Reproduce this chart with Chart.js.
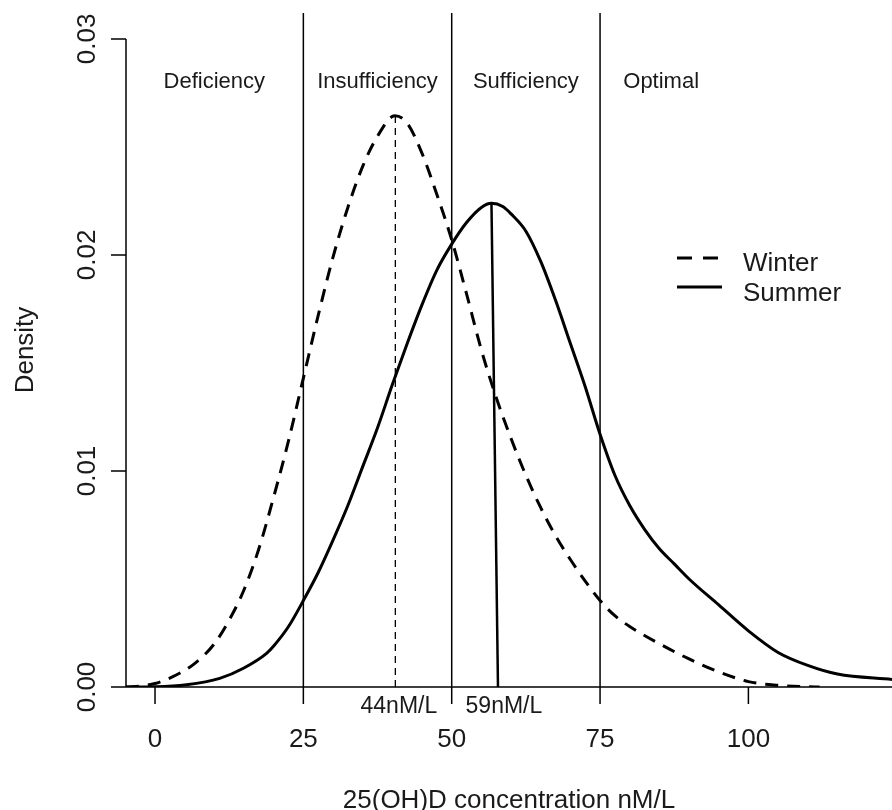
<!DOCTYPE html>
<html lang="en">
<head>
  <meta charset="UTF-8">
  <title>25(OH)D density - Winter vs Summer</title>
  <script src="https://cdn.jsdelivr.net/npm/chart.js"></script>
  <style>
    body {
      margin: 0;
      padding: 0;
      background-color: #ffffff;
    }
    #wrap {
      width: 892px;
      height: 810px;
      position: relative;
    }
  </style>
</head>
<body>
  <div id="wrap">
    <canvas id="density-chart" width="892" height="810"></canvas>
  </div>

  <script>
    // Winter density curve
    const winterX = [-4.9, -2, 0, 3, 6.5, 10, 12.5, 15, 17.5, 20, 22.5, 25, 27.5, 30, 32.5, 35, 37.5,
      40.4, 42.5, 45, 47.5, 50, 52.5, 55, 57.5, 60, 62.5, 65, 67.5, 70, 72.5, 75, 77.5, 80, 85, 90, 95,
      100, 105, 110, 112];
    const winterY = [0, 0.00006, 0.00016, 0.00048, 0.00105, 0.0020, 0.0031, 0.0045, 0.0064, 0.0088,
      0.0114, 0.0143, 0.0172, 0.0199, 0.0222, 0.0241, 0.0255, 0.02644, 0.0261, 0.0247, 0.0228,
      0.0207, 0.0182, 0.0156, 0.0134, 0.0115, 0.0098, 0.0083, 0.0070, 0.0059, 0.0049, 0.0040,
      0.0033, 0.0028, 0.0020, 0.0013, 0.0007, 0.00025, 0.00008, 0.00001, 0];

    // Summer density curve
    const summerX = [-4.9, 0, 5.3, 10.9, 14.9, 18.8, 20, 22.5, 25, 27.5, 30, 32.5, 35, 37.5, 40, 42.5,
      45, 47.5, 50, 52.5, 55, 56.7, 58.6, 60, 62.5, 65, 67.5, 70, 72.5, 75, 77.5, 80, 82.5, 85,
      87.5, 90, 95, 100, 105, 110, 115, 124.2];
    const summerY = [0, 0.00001, 0.0001, 0.0004, 0.00087, 0.00156, 0.0019, 0.0028, 0.0040, 0.0053,
      0.0068, 0.0084, 0.0102, 0.0120, 0.0140, 0.0159, 0.0177, 0.0193, 0.0205, 0.0215, 0.0222,
      0.02239, 0.02224, 0.0219, 0.0211, 0.0197, 0.0179, 0.0159, 0.0139, 0.0117, 0.0098, 0.0084,
      0.0073, 0.0064, 0.0057, 0.0050, 0.0038, 0.0026, 0.0016, 0.0010, 0.0006, 0.00035];

    // cut-offs between the status bands
    const cutoffs = [25, 50, 75];
    const bandLabels = ["Deficiency", "Insufficiency", "Sufficiency", "Optimal"];
    const bandCenters = [10, 37.5, 62.5, 85.3];

    // medians: drawn line (bottom x, top x, top y) and label
    const winterMedian = { x0: 40.5, x1: 40.5, y1: 0.02644 };
    const summerMedian = { x0: 57.8, x1: 56.7, y1: 0.02239 };
    const medianLabels = ["44nM/L", "59nM/L"];
    const medianLabelX = [41.1, 58.8];

    const xTicks = [0, 25, 50, 75, 100];
    const yTicks = [0, 0.01, 0.02, 0.03];
    const yTickLabels = ["0.00", "0.01", "0.02", "0.03"];

    const X_MIN = -4.89, X_MAX = 124.2, Y_MIN = 0, Y_MAX = 0.0312;
    const FONT = '"Liberation Sans", Arial, sans-serif';
    const INK = "#1a1a1a";

    function toPoints(xs, ys) {
      return xs.map((x, i) => ({ x: x, y: ys[i] }));
    }

    const datasets = [
      {
        label: "Winter",
        data: toPoints(winterX, winterY),
        borderColor: "#000",
        borderWidth: 3,
        borderDash: [13, 9],
        cubicInterpolationMode: "monotone"
      },
      {
        label: "Summer",
        data: toPoints(summerX, summerY),
        borderColor: "#000",
        borderWidth: 3,
        cubicInterpolationMode: "monotone"
      }
    ];

    cutoffs.forEach(c => {
      datasets.push({
        label: "cut " + c,
        data: [{ x: c, y: Y_MIN }, { x: c, y: Y_MAX }],
        borderColor: "#000",
        borderWidth: 1.5
      });
    });

    datasets.push({
      label: "winter median",
      data: [{ x: winterMedian.x0, y: 0 }, { x: winterMedian.x1, y: winterMedian.y1 }],
      borderColor: "#000",
      borderWidth: 1.3,
      borderDash: [7, 5]
    });
    datasets.push({
      label: "summer median",
      data: [{ x: summerMedian.x0, y: 0 }, { x: summerMedian.x1, y: summerMedian.y1 }],
      borderColor: "#000",
      borderWidth: 2.5
    });

    // R style axes, labels and legend drawn with the chart's own scales
    const decorations = {
      id: "decorations",
      afterDraw(chart) {
        const ctx = chart.ctx;
        const xs = chart.scales.x, ys = chart.scales.y;
        const area = chart.chartArea;
        const y0 = ys.getPixelForValue(0);

        ctx.save();
        ctx.strokeStyle = "#000";
        ctx.fillStyle = INK;
        ctx.lineWidth = 1.5;

        // y axis line + ticks
        ctx.beginPath();
        ctx.moveTo(area.left, ys.getPixelForValue(yTicks[yTicks.length - 1]));
        ctx.lineTo(area.left, y0);
        yTicks.forEach(t => {
          const p = ys.getPixelForValue(t);
          ctx.moveTo(area.left - 15, p);
          ctx.lineTo(area.left, p);
        });
        // baseline + x ticks
        ctx.moveTo(area.left - 15, y0);
        ctx.lineTo(area.right, y0);
        xTicks.forEach(t => {
          const p = xs.getPixelForValue(t);
          ctx.moveTo(p, y0);
          ctx.lineTo(p, y0 + 17);
        });
        ctx.stroke();

        // tick labels
        ctx.font = "26px " + FONT;
        ctx.textAlign = "center";
        ctx.textBaseline = "alphabetic";
        xTicks.forEach(t => {
          ctx.fillText(String(t), xs.getPixelForValue(t), y0 + 60);
        });
        yTicks.forEach((t, i) => {
          ctx.save();
          ctx.translate(area.left - 31, ys.getPixelForValue(t));
          ctx.rotate(-Math.PI / 2);
          ctx.fillText(yTickLabels[i], 0, 0);
          ctx.restore();
        });

        // axis titles
        ctx.fillText("25(OH)D concentration nM/L", (area.left + area.right) / 2, 808);
        ctx.save();
        ctx.translate(33, (area.top + area.bottom) / 2);
        ctx.rotate(-Math.PI / 2);
        ctx.fillText("Density", 0, 0);
        ctx.restore();

        // band labels
        ctx.font = "22px " + FONT;
        bandLabels.forEach((b, i) => {
          ctx.fillText(b, xs.getPixelForValue(bandCenters[i]), 88);
        });

        // median labels
        ctx.font = "23px " + FONT;
        medianLabels.forEach((m, i) => {
          ctx.fillText(m, xs.getPixelForValue(medianLabelX[i]), y0 + 26);
        });

        // legend
        ctx.lineWidth = 3;
        ctx.setLineDash([15, 11]);
        ctx.beginPath();
        ctx.moveTo(677, 258);
        ctx.lineTo(720, 258);
        ctx.stroke();
        ctx.setLineDash([]);
        ctx.beginPath();
        ctx.moveTo(677, 287);
        ctx.lineTo(722, 287);
        ctx.stroke();
        ctx.font = "26px " + FONT;
        ctx.textAlign = "left";
        ctx.fillText("Winter", 743, 271);
        ctx.fillText("Summer", 743, 301);

        ctx.restore();
      }
    };

    new Chart(document.getElementById("density-chart").getContext("2d"), {
      type: "scatter",
      data: { datasets: datasets },
      options: {
        responsive: false,
        devicePixelRatio: 1,
        animation: false,
        showLine: true,
        layout: { padding: { left: 126, right: 0, top: 13, bottom: 123 } },
        elements: { point: { radius: 0, hoverRadius: 0 } },
        plugins: {
          legend: { display: false },
          tooltip: { enabled: false }
        },
        scales: {
          x: { type: "linear", min: X_MIN, max: X_MAX, display: false },
          y: { type: "linear", min: Y_MIN, max: Y_MAX, display: false }
        }
      },
      plugins: [decorations]
    });
  </script>
</body>
</html>
